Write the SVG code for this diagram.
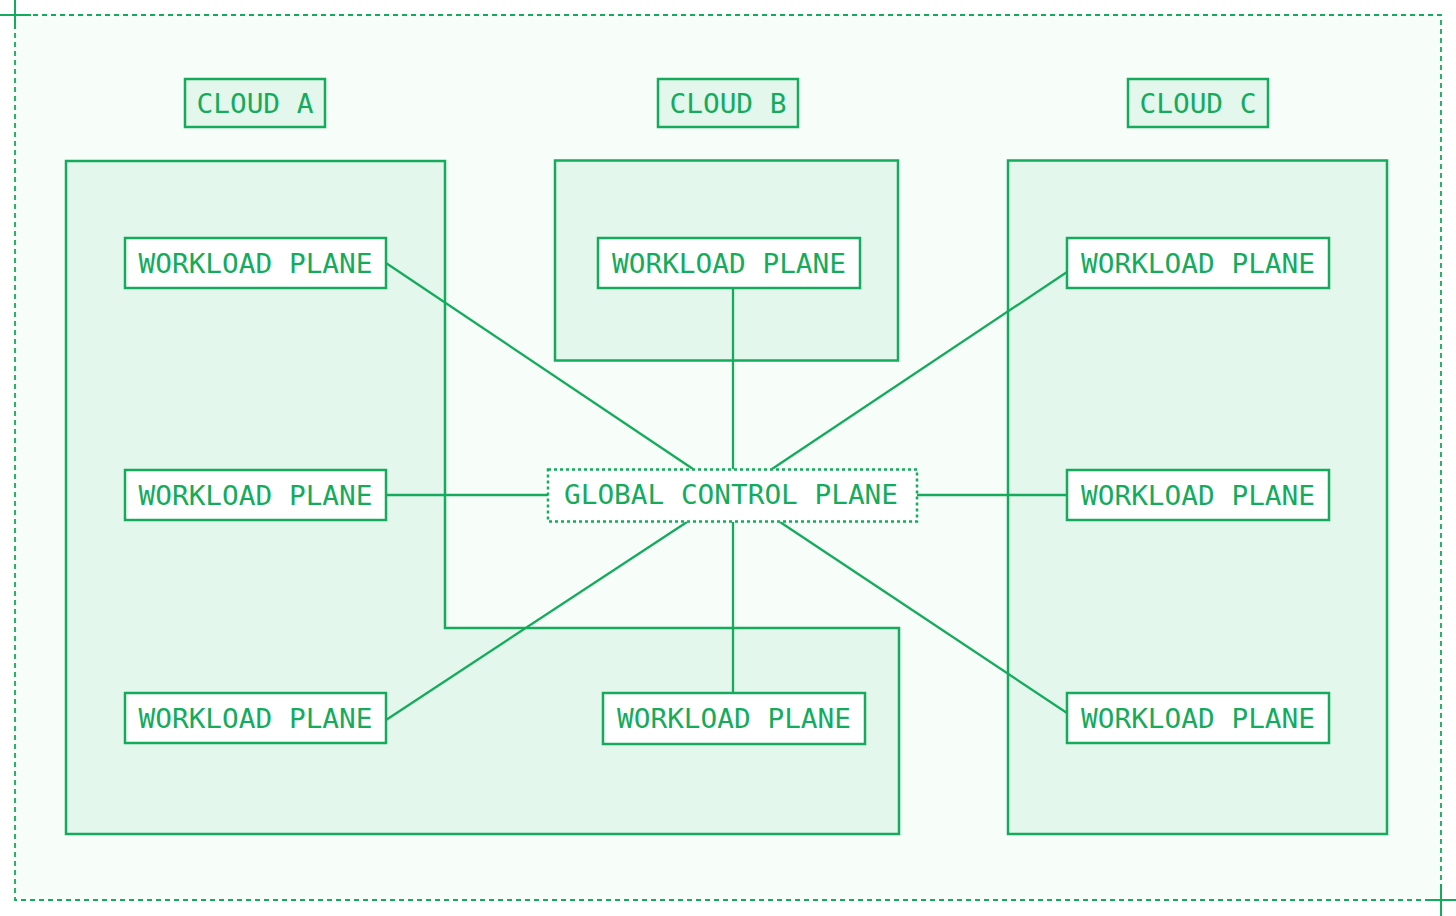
<svg xmlns="http://www.w3.org/2000/svg" width="1456" height="916" viewBox="0 0 1456 916">
<style>
.region{fill:#e4f7ec;stroke:#14ab5c;stroke-width:2.5}
.box{fill:#ffffff;stroke:#14ab5c;stroke-width:2.5}
.lbl{fill:#e4f7ec;stroke:#14ab5c;stroke-width:2.5}
.gcp{fill:#ffffff;stroke:#14ab5c;stroke-width:2.5;stroke-dasharray:3 3}
.t{font-family:"DejaVu Sans Mono","Liberation Mono",monospace;font-size:26px;fill:#14ab5c;text-anchor:middle}
.frame{fill:none;stroke:#14ab5c;stroke-width:1.8;stroke-dasharray:5 4}
.edge{stroke:#14ab5c;stroke-width:2.3;fill:none}
.cross{stroke:#14ab5c;stroke-width:2}
</style>
<rect x="0" y="0" width="1456" height="916" fill="#ffffff"/>
<rect x="15" y="15" width="1426" height="885" fill="#f7fdf9"/>
<g id="frame">
<rect class="frame" x="15" y="15" width="1426" height="885"/>
<line class="cross" x1="0" y1="15" x2="31" y2="15"/>
<line class="cross" x1="15" y1="0" x2="15" y2="29"/>
<line class="cross" x1="1425" y1="900" x2="1456" y2="900"/>
<line class="cross" x1="1441" y1="884" x2="1441" y2="916"/>
</g>
<g id="cloud-a">
<path class="region" d="M66,161 H445 V628 H899 V834 H66 Z"/>
</g>
<g id="cloud-b">
<rect class="region" x="555" y="160.5" width="343" height="200"/>
</g>
<g id="cloud-c">
<rect class="region" x="1008" y="160.5" width="379" height="673.5"/>
</g>
<g id="connectors">
<line class="edge" x1="386" y1="263" x2="693" y2="469"/>
<line class="edge" x1="733" y1="288" x2="733" y2="469"/>
<line class="edge" x1="1067" y1="272" x2="772" y2="469"/>
<line class="edge" x1="386" y1="495" x2="548" y2="495"/>
<line class="edge" x1="917" y1="495" x2="1067" y2="495"/>
<line class="edge" x1="386" y1="720" x2="687" y2="522"/>
<line class="edge" x1="733" y1="522" x2="733" y2="693"/>
<line class="edge" x1="1067" y1="713" x2="780" y2="522"/>
</g>
<g id="label-cloud-a">
<rect class="lbl" x="185" y="79" width="140" height="48"/>
<text class="t" x="255" y="113" textLength="117" lengthAdjust="spacingAndGlyphs">CLOUD  A</text>
</g>
<g id="label-cloud-b">
<rect class="lbl" x="658" y="79" width="140" height="48"/>
<text class="t" x="728" y="113" textLength="117" lengthAdjust="spacingAndGlyphs">CLOUD  B</text>
</g>
<g id="label-cloud-c">
<rect class="lbl" x="1128" y="79" width="140" height="48"/>
<text class="t" x="1198" y="113" textLength="117" lengthAdjust="spacingAndGlyphs">CLOUD  C</text>
</g>
<g id="wp-a1">
<rect class="box" x="125" y="238" width="261" height="50"/>
<text class="t" x="255.5" y="272.5" textLength="234" lengthAdjust="spacingAndGlyphs">WORKLOAD  PLANE</text>
</g>
<g id="wp-a2">
<rect class="box" x="125" y="470" width="261" height="50"/>
<text class="t" x="255.5" y="504.5" textLength="234" lengthAdjust="spacingAndGlyphs">WORKLOAD  PLANE</text>
</g>
<g id="wp-a3">
<rect class="box" x="125" y="693" width="261" height="50"/>
<text class="t" x="255.5" y="727.5" textLength="234" lengthAdjust="spacingAndGlyphs">WORKLOAD  PLANE</text>
</g>
<g id="wp-b">
<rect class="box" x="598" y="238" width="262" height="50"/>
<text class="t" x="729" y="272.5" textLength="234" lengthAdjust="spacingAndGlyphs">WORKLOAD  PLANE</text>
</g>
<g id="wp-a4">
<rect class="box" x="603" y="693" width="262" height="51"/>
<text class="t" x="734" y="727.5" textLength="234" lengthAdjust="spacingAndGlyphs">WORKLOAD  PLANE</text>
</g>
<g id="wp-c1">
<rect class="box" x="1067" y="238" width="262" height="50"/>
<text class="t" x="1198" y="272.5" textLength="234" lengthAdjust="spacingAndGlyphs">WORKLOAD  PLANE</text>
</g>
<g id="wp-c2">
<rect class="box" x="1067" y="470" width="262" height="50"/>
<text class="t" x="1198" y="504.5" textLength="234" lengthAdjust="spacingAndGlyphs">WORKLOAD  PLANE</text>
</g>
<g id="wp-c3">
<rect class="box" x="1067" y="693" width="262" height="50"/>
<text class="t" x="1198" y="727.5" textLength="234" lengthAdjust="spacingAndGlyphs">WORKLOAD  PLANE</text>
</g>
<g id="global-control-plane">
<rect class="gcp" x="548" y="469.5" width="369" height="52"/>
<text class="t" x="731" y="503.5" textLength="334" lengthAdjust="spacingAndGlyphs">GLOBAL  CONTROL  PLANE</text>
</g>
</svg>
